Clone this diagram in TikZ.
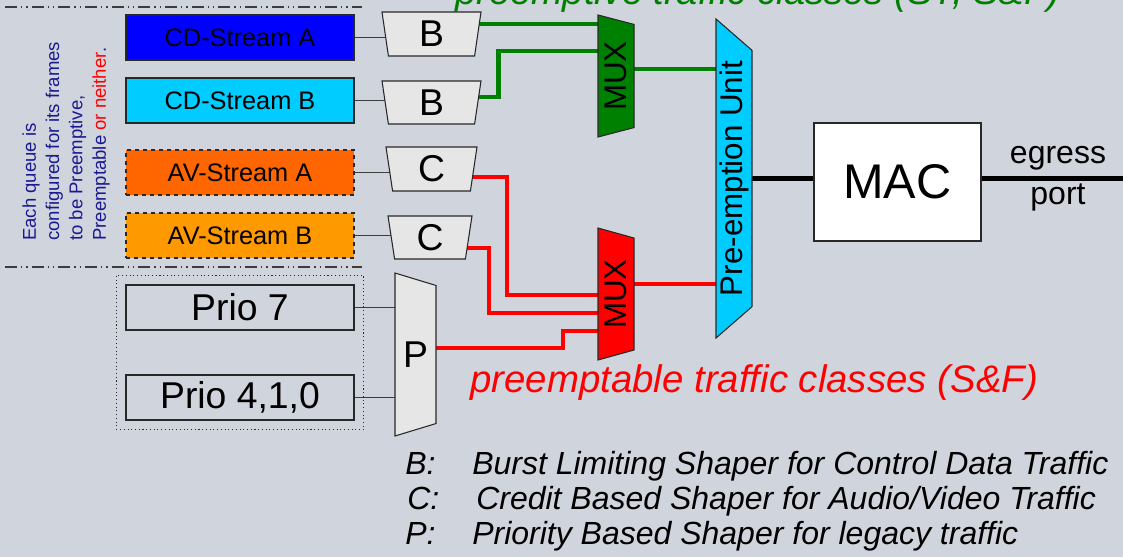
\documentclass[tikz,border=0pt]{standalone}
\usepackage{fontspec}
\setmainfont{Liberation Sans}
\usetikzlibrary{shapes.geometric, fit, calc}

\pgfdeclarelayer{back}
\pgfdeclarelayer{wires}
\pgfsetlayers{back,wires,main}

\definecolor{slidebg}{RGB}{208,212,220}
\definecolor{boxline}{RGB}{40,40,40}
\definecolor{shapergray}{RGB}{230,230,230}
\definecolor{cdA}{RGB}{0,0,255}
\definecolor{cdB}{RGB}{0,204,255}
\definecolor{avA}{RGB}{255,102,0}
\definecolor{avB}{RGB}{255,153,0}
\definecolor{expgreen}{RGB}{0,128,0}
\definecolor{pregray}{RGB}{60,60,60}
\definecolor{notenavy}{RGB}{25,25,145}

\begin{document}
\begin{tikzpicture}[x=0.75pt, y=-0.75pt, every node/.style={inner sep=0pt}]
    \tikzstyle{queue}=[draw=boxline, line width=1pt, minimum width=171pt, minimum height=33.75pt, font=\fontsize{19}{22}\selectfont]
    \tikzstyle{shaper}=[trapezium, shape border rotate=180, trapezium stretches body=true, trapezium angle=76, draw=boxline, fill=shapergray, line width=0.8pt, font=\fontsize{28}{30}\selectfont]
    \tikzstyle{mux}=[trapezium, rotate=90, shape border rotate=180, trapezium stretches body=true, draw=boxline, line width=0.8pt, minimum height=27pt, font=\fontsize{23.5}{25}\selectfont]
    \tikzstyle{thinwire}=[draw=pregray, line width=0.9pt]
    \tikzstyle{gwire}=[draw=expgreen, line width=3.2pt]
    \tikzstyle{rwire}=[draw=red, line width=3.2pt]
    \tikzstyle{kwire}=[draw=black, line width=3.2pt]
    \tikzstyle{legend}=[font=\fontsize{24}{28}\selectfont\itshape]
    \tikzstyle{sepline}=[draw=pregray, line width=1.1pt, dash pattern=on 9pt off 3pt on 1pt off 3pt on 1pt off 3pt]

    \begin{pgfonlayer}{back}
        \fill[slidebg] (0,0) rectangle (1123,557);
    \end{pgfonlayer}
    \useasboundingbox (0,0) rectangle (1123,557);

    % queues
    \draw[sepline] (5,7) -- (362,7);
    \draw[sepline] (5,267) -- (362,267);
    \node[rotate=90, anchor=west, align=left, text=notenavy, font=\fontsize{13.9}{17.5}\selectfont] (note) at (66,241)
        {Each queue is\\configured for its frames\\to be Preemptive,\\Preemptable {\color{red}or neither}.};

    \node[queue, fill=cdA] (cda) at (240,37.5) {CD-Stream A};
    \node[queue, fill=cdB] (cdb) at (240,100.5) {CD-Stream B};
    \node[queue, fill=avA, dashed] (ava) at (240,172.5) {AV-Stream A};
    \node[queue, fill=avB, dashed] (avb) at (240,235.5) {AV-Stream B};

    \node[queue, font=\fontsize{28}{30}\selectfont] (prio7) at (240,307.5) {Prio 7};
    \node[queue, font=\fontsize{28}{30}\selectfont] (prio410) at (240,397.5) {Prio 4,1,0};
    \node[fit=(prio7)(prio410), draw=boxline, dotted, line width=0.8pt, inner sep=6.75pt] (prioGroup) {};

    % shapers
    \node[shaper, minimum width=74.25pt, minimum height=33pt] (b1) at (431.5,34) {B};
    \node[shaper, minimum width=74.25pt, minimum height=32.25pt] (b2) at (431.5,102.5) {B};
    \node[shaper, minimum width=68.25pt, minimum height=33pt] (c1) at (431.5,169) {C};
    \node[shaper, minimum width=63pt, minimum height=32.25pt] (c2) at (430,237.5) {C};
    \node[shaper, rotate=90, trapezium angle=63.4, minimum width=122.25pt, minimum height=30.75pt] (pshp) at (415.5,354.5) {\rotatebox{-90}{P}};

    % multiplexers, pre-emption, MAC
    \node[mux, fill=expgreen, trapezium angle=66.7, minimum width=91.5pt] (muxg) at (616,76) {MUX};
    \node[mux, fill=red, trapezium angle=65.4, minimum width=99pt] (muxr) at (616,294) {MUX};
    \node[mux, fill=cdB, trapezium angle=43, minimum width=239.25pt] (peu) at (734,178.5) {Pre-emption Unit};
    \node[draw=boxline, fill=white, line width=1pt, minimum width=125.25pt, minimum height=88.5pt, font=\fontsize{36.5}{40}\selectfont] (mac) at (897.5,182) {MAC};

    \coordinate (b1out) at ($(b1.center)+(0,-10)$);
    \coordinate (b2out) at ($(b2.center)+(0,-5.5)$);
    \coordinate (c1out) at ($(c1.center)+(0,8)$);
    \coordinate (c2out) at ($(c2.center)+(0,10.5)$);
    \coordinate (pout) at ($(pshp.center)+(0,-6.5)$);
    \coordinate (gout) at ($(muxg.center)+(0,-7)$);
    \coordinate (rout) at ($(muxr.center)+(0,-10)$);
    \coordinate (macout) at (mac.center |- peu.center);
    \coordinate (port) at (1123,178.5);

    \begin{pgfonlayer}{wires}
        \draw[thinwire] (cda.east) -- (cda.east -| b1.center);
        \draw[thinwire] (cdb.east) -- (cdb.east -| b2.center);
        \draw[thinwire] (ava.east) -- (ava.east -| c1.center);
        \draw[thinwire] (avb.east) -- (avb.east -| c2.center);
        \draw[thinwire] (prio7.east) -- (prio7.east -| pshp.center);
        \draw[thinwire] (prio410.east) -- (prio410.east -| pshp.center);

        \draw[gwire] (b1out) -- (b1out -| muxg.center);
        \draw[gwire] (b2out) -- ++(67,0) |- ($(muxg.center)+(0,-25)$);
        \draw[gwire] (gout) -- (gout -| peu.center);

        \draw[rwire] (c1out) -- ++(75.5,0) |- ($(muxr.center)+(0,1)$);
        \draw[rwire] (c2out) -- ++(59,0) |- ($(muxr.center)+(0,19)$);
        \draw[rwire] (pout) -- ++(147.5,0) |- ($(muxr.center)+(0,37)$);
        \draw[rwire] (rout) -- (rout -| peu.center);

        \draw[kwire] (peu.center) -- (macout);
        \draw[kwire] (macout) -- (port);
    \end{pgfonlayer}

    \node[font=\fontsize{24}{26}\selectfont] (egress) at (1058,158) {egress};
    \node[font=\fontsize{24}{26}\selectfont] (portlbl) at (1058,197) {port};

    % traffic class captions
    \node[anchor=base west, text=expgreen, font=\fontsize{28.5}{30}\selectfont\itshape] (exptitle) at (455,4) {preemptive traffic classes (ST, S\&F)};
    \node[anchor=base west, text=red, font=\fontsize{28.8}{30}\selectfont\itshape] (pretitle) at (470,392) {preemptable traffic classes (S\&F)};

    % key
    \node[legend, anchor=base west] (keyB) at (405,474) {B:};
    \node[legend, anchor=base west] (txtB) at (472,474) {Burst Limiting Shaper for Control Data Traffic};
    \node[legend, anchor=base west] (keyC) at (407,509) {C:};
    \node[legend, anchor=base west] (txtC) at (476,509) {Credit Based Shaper for Audio/Video Traffic};
    \node[legend, anchor=base west] (keyP) at (405,544) {P:};
    \node[legend, anchor=base west] (txtP) at (472,544) {Priority Based Shaper for legacy traffic};
\end{tikzpicture}
\end{document}
